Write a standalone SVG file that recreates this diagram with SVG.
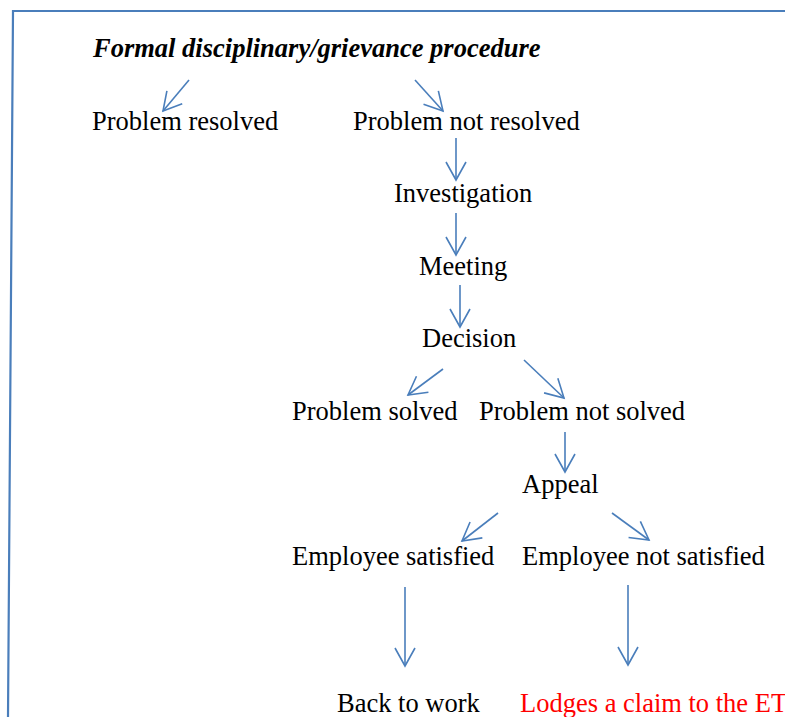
<svg xmlns="http://www.w3.org/2000/svg" width="785" height="717" viewBox="0 0 785 717">
  <style>
    .lbl { font-family: "Liberation Serif", "Times New Roman", serif; font-size: 26.5px; fill: #000; }
    .title { font-weight: bold; font-style: italic; }
    .red { fill: #ff0000; }
    .frame { stroke: #4a7ebb; stroke-width: 2.2; fill: none; }
    .arrow { stroke: #4a7ebb; stroke-width: 1.6; fill: none; marker-end: url(#head); }
  </style>
  <defs>
    <marker id="head" markerUnits="userSpaceOnUse" markerWidth="24" markerHeight="24" viewBox="-20 -12 24 24" refX="0" refY="0" orient="auto">
      <path d="M-18,-10 L0,0 L-18,10" fill="none" stroke="#4a7ebb" stroke-width="1.6"/>
    </marker>
  </defs>
  <rect width="785" height="717" fill="#fff"/>

  <!-- page frame -->
  <g id="frame">
    <path class="frame" d="M8,717 L13,11 L785,11"/>
  </g>

  <!-- connectors -->
  <g id="connectors">
    <line class="arrow" x1="189" y1="80" x2="163" y2="111"/>
    <line class="arrow" x1="415" y1="80" x2="443" y2="111"/>
    <line class="arrow" x1="456" y1="138" x2="456" y2="180"/>
    <line class="arrow" x1="456" y1="213" x2="456" y2="255"/>
    <line class="arrow" x1="460" y1="285" x2="460" y2="327"/>
    <line class="arrow" x1="443" y1="369" x2="408" y2="395"/>
    <line class="arrow" x1="524" y1="360" x2="564" y2="398"/>
    <line class="arrow" x1="565" y1="432" x2="565" y2="472"/>
    <line class="arrow" x1="498" y1="513" x2="462" y2="541"/>
    <line class="arrow" x1="612" y1="513" x2="649" y2="540"/>
    <line class="arrow" x1="405" y1="587" x2="405" y2="666"/>
    <line class="arrow" x1="628" y1="585" x2="628" y2="665"/>
  </g>

  <!-- nodes -->
  <g id="title"><text class="lbl title" x="93" y="57">Formal disciplinary/grievance procedure</text></g>
  <g id="problem-resolved"><text class="lbl" x="92" y="130">Problem resolved</text></g>
  <g id="problem-not-resolved"><text class="lbl" x="353" y="130">Problem not resolved</text></g>
  <g id="investigation"><text class="lbl" x="394" y="202">Investigation</text></g>
  <g id="meeting"><text class="lbl" x="419" y="275">Meeting</text></g>
  <g id="decision"><text class="lbl" x="422" y="347">Decision</text></g>
  <g id="problem-solved"><text class="lbl" x="292" y="420">Problem solved</text></g>
  <g id="problem-not-solved"><text class="lbl" x="479" y="420">Problem not solved</text></g>
  <g id="appeal"><text class="lbl" x="522" y="493">Appeal</text></g>
  <g id="employee-satisfied"><text class="lbl" x="292" y="565">Employee satisfied</text></g>
  <g id="employee-not-satisfied"><text class="lbl" x="522" y="565">Employee not satisfied</text></g>
  <g id="back-to-work"><text class="lbl" x="337" y="712">Back to work</text></g>
  <g id="lodges-claim"><text class="lbl red" x="520" y="712">Lodges a claim to the ET</text></g>
</svg>
